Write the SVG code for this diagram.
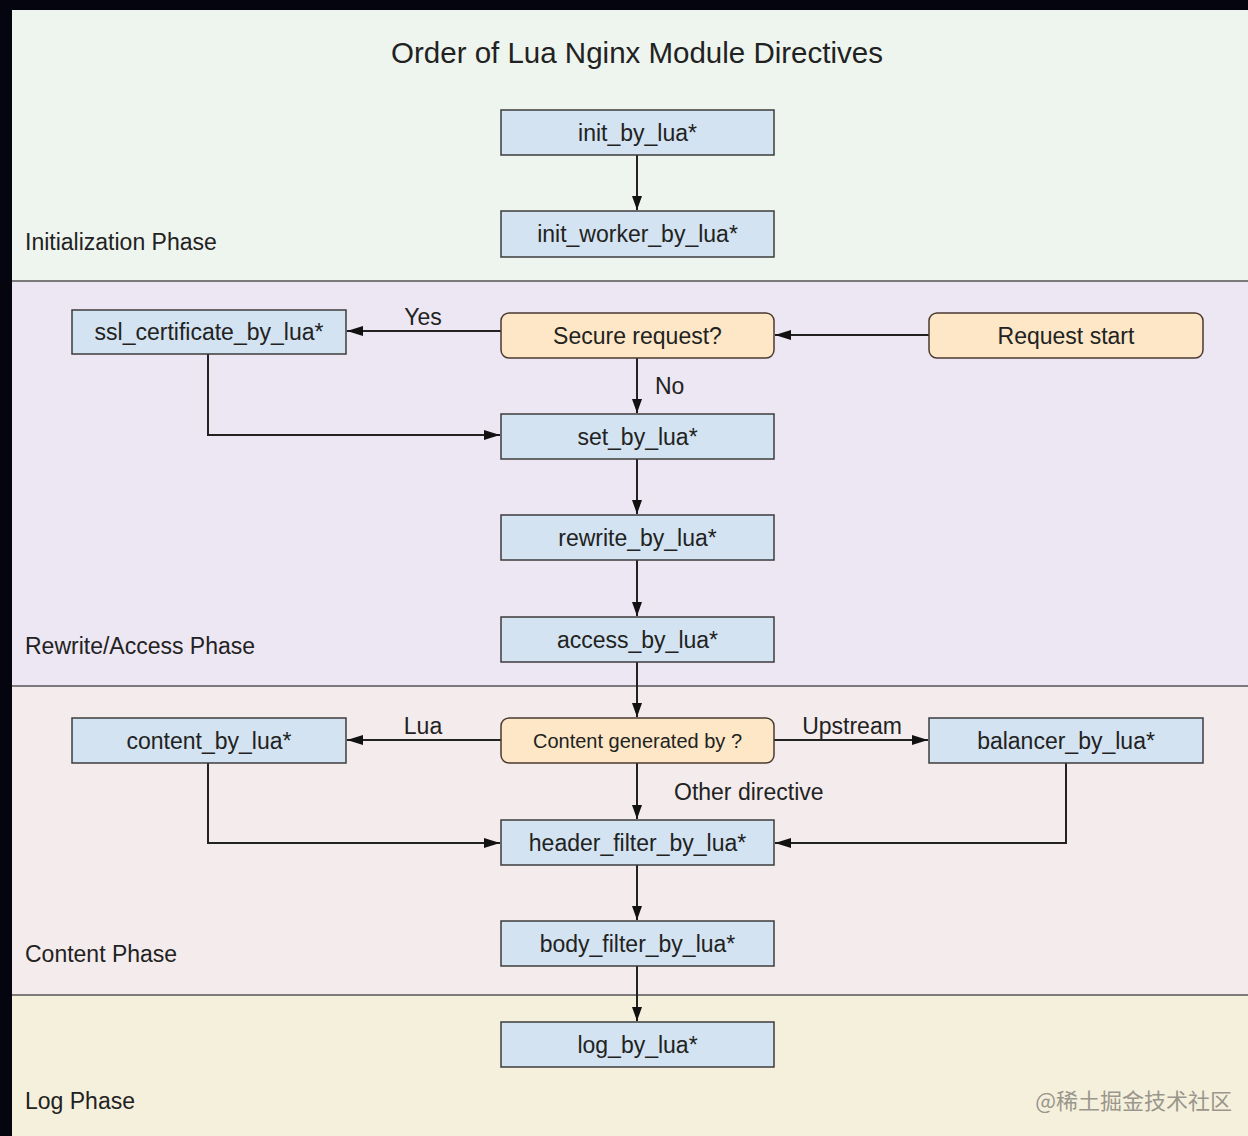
<svg xmlns="http://www.w3.org/2000/svg" width="1248" height="1136" viewBox="0 0 1248 1136">
<style>
text{font-family:"Liberation Sans",Arial,sans-serif;fill:#222}
.n{fill:#d3e3f1;stroke:#3c3c3c;stroke-width:1.5}
.d{fill:#fde7c6;stroke:#4a3a30;stroke-width:1.5}
.t{font-size:23px;text-anchor:middle}
.ph{font-size:23px}
.lbl{font-size:23px}
.c{fill:none;stroke:#222;stroke-width:2}
.sep{stroke:#555;stroke-width:1.5}
</style>
<defs>
<marker id="a" viewBox="0 0 14 10" refX="14" refY="5" markerWidth="14" markerHeight="10" markerUnits="userSpaceOnUse" orient="auto"><path d="M0,0 L14,5 L0,10 z" fill="#111"/></marker>
<marker id="ah" viewBox="0 0 16 10" refX="16" refY="5" markerWidth="16" markerHeight="10" markerUnits="userSpaceOnUse" orient="auto"><path d="M0,0 L16,5 L0,10 z" fill="#111"/></marker>
</defs>
<rect width="1248" height="1136" fill="#050510"/>
<g id="phases">
<rect x="12" y="10" width="1236" height="271" fill="#eef5ee"/>
<rect x="12" y="281" width="1236" height="405" fill="#ede7f3"/>
<rect x="12" y="686" width="1236" height="309" fill="#f4ecec"/>
<rect x="12" y="995" width="1236" height="141" fill="#f5f0dc"/>
<line class="sep" x1="12" y1="281" x2="1248" y2="281"/>
<line class="sep" x1="12" y1="686" x2="1248" y2="686"/>
<line class="sep" x1="12" y1="995" x2="1248" y2="995"/>
<text class="ph" x="25" y="250">Initialization Phase</text>
<text class="ph" x="25" y="654">Rewrite/Access Phase</text>
<text class="ph" x="25" y="962">Content Phase</text>
<text class="ph" x="25" y="1109">Log Phase</text>
</g>
<text x="637" y="63" font-size="29.5" text-anchor="middle">Order of Lua Nginx Module Directives</text>
<text x="1232" y="1109" font-size="22" text-anchor="end" style="font-family:'Noto Sans CJK SC',sans-serif;fill:#9a968c">@稀土掘金技术社区</text>
<g id="connectors">
<line class="c" x1="637" y1="155" x2="637" y2="210" marker-end="url(#a)"/>
<line class="c" x1="501" y1="331" x2="347" y2="331" marker-end="url(#ah)"/>
<line class="c" x1="929" y1="335" x2="775" y2="335" marker-end="url(#ah)"/>
<line class="c" x1="637" y1="358" x2="637" y2="413" marker-end="url(#a)"/>
<polyline class="c" points="208,354 208,435 500,435" marker-end="url(#ah)"/>
<line class="c" x1="637" y1="459" x2="637" y2="514" marker-end="url(#a)"/>
<line class="c" x1="637" y1="560" x2="637" y2="616" marker-end="url(#a)"/>
<line class="c" x1="637" y1="662" x2="637" y2="717" marker-end="url(#a)"/>
<line class="c" x1="501" y1="740" x2="347" y2="740" marker-end="url(#ah)"/>
<line class="c" x1="774" y1="740" x2="928" y2="740" marker-end="url(#ah)"/>
<line class="c" x1="637" y1="763" x2="637" y2="819" marker-end="url(#a)"/>
<polyline class="c" points="208,763 208,843 500,843" marker-end="url(#ah)"/>
<polyline class="c" points="1066,763 1066,843 775,843" marker-end="url(#ah)"/>
<line class="c" x1="637" y1="865" x2="637" y2="920" marker-end="url(#a)"/>
<line class="c" x1="637" y1="966" x2="637" y2="1021" marker-end="url(#a)"/>
<text class="lbl" x="423" y="325" text-anchor="middle">Yes</text>
<text class="lbl" x="655" y="394">No</text>
<text class="lbl" x="423" y="734" text-anchor="middle">Lua</text>
<text class="lbl" x="852" y="734" text-anchor="middle">Upstream</text>
<text class="lbl" x="674" y="800">Other directive</text>
</g>
<g id="init_by_lua"><rect class="n" x="501" y="110" width="273" height="45"/><text class="t" x="637.5" y="141">init_by_lua*</text></g>
<g id="init_worker_by_lua"><rect class="n" x="501" y="211" width="273" height="46"/><text class="t" x="637.5" y="242">init_worker_by_lua*</text></g>
<g id="ssl_certificate_by_lua"><rect class="n" x="72" y="310" width="274" height="44"/><text class="t" x="209" y="340">ssl_certificate_by_lua*</text></g>
<g id="secure_request"><rect class="d" x="501" y="313" width="273" height="45" rx="8"/><text class="t" x="637.5" y="344">Secure request?</text></g>
<g id="request_start"><rect class="d" x="929" y="313" width="274" height="45" rx="8"/><text class="t" x="1066" y="344">Request start</text></g>
<g id="set_by_lua"><rect class="n" x="501" y="414" width="273" height="45"/><text class="t" x="637.5" y="445">set_by_lua*</text></g>
<g id="rewrite_by_lua"><rect class="n" x="501" y="515" width="273" height="45"/><text class="t" x="637.5" y="546">rewrite_by_lua*</text></g>
<g id="access_by_lua"><rect class="n" x="501" y="617" width="273" height="45"/><text class="t" x="637.5" y="648">access_by_lua*</text></g>
<g id="content_by_lua"><rect class="n" x="72" y="718" width="274" height="45"/><text class="t" x="209" y="749">content_by_lua*</text></g>
<g id="content_generated_by"><rect class="d" x="501" y="718" width="273" height="45" rx="8"/><text class="t" x="637.5" y="748" style="font-size:20px">Content generated by ?</text></g>
<g id="balancer_by_lua"><rect class="n" x="929" y="718" width="274" height="45"/><text class="t" x="1066" y="749">balancer_by_lua*</text></g>
<g id="header_filter_by_lua"><rect class="n" x="501" y="820" width="273" height="45"/><text class="t" x="637.5" y="851">header_filter_by_lua*</text></g>
<g id="body_filter_by_lua"><rect class="n" x="501" y="921" width="273" height="45"/><text class="t" x="637.5" y="952">body_filter_by_lua*</text></g>
<g id="log_by_lua"><rect class="n" x="501" y="1022" width="273" height="45"/><text class="t" x="637.5" y="1053">log_by_lua*</text></g>
</svg>
